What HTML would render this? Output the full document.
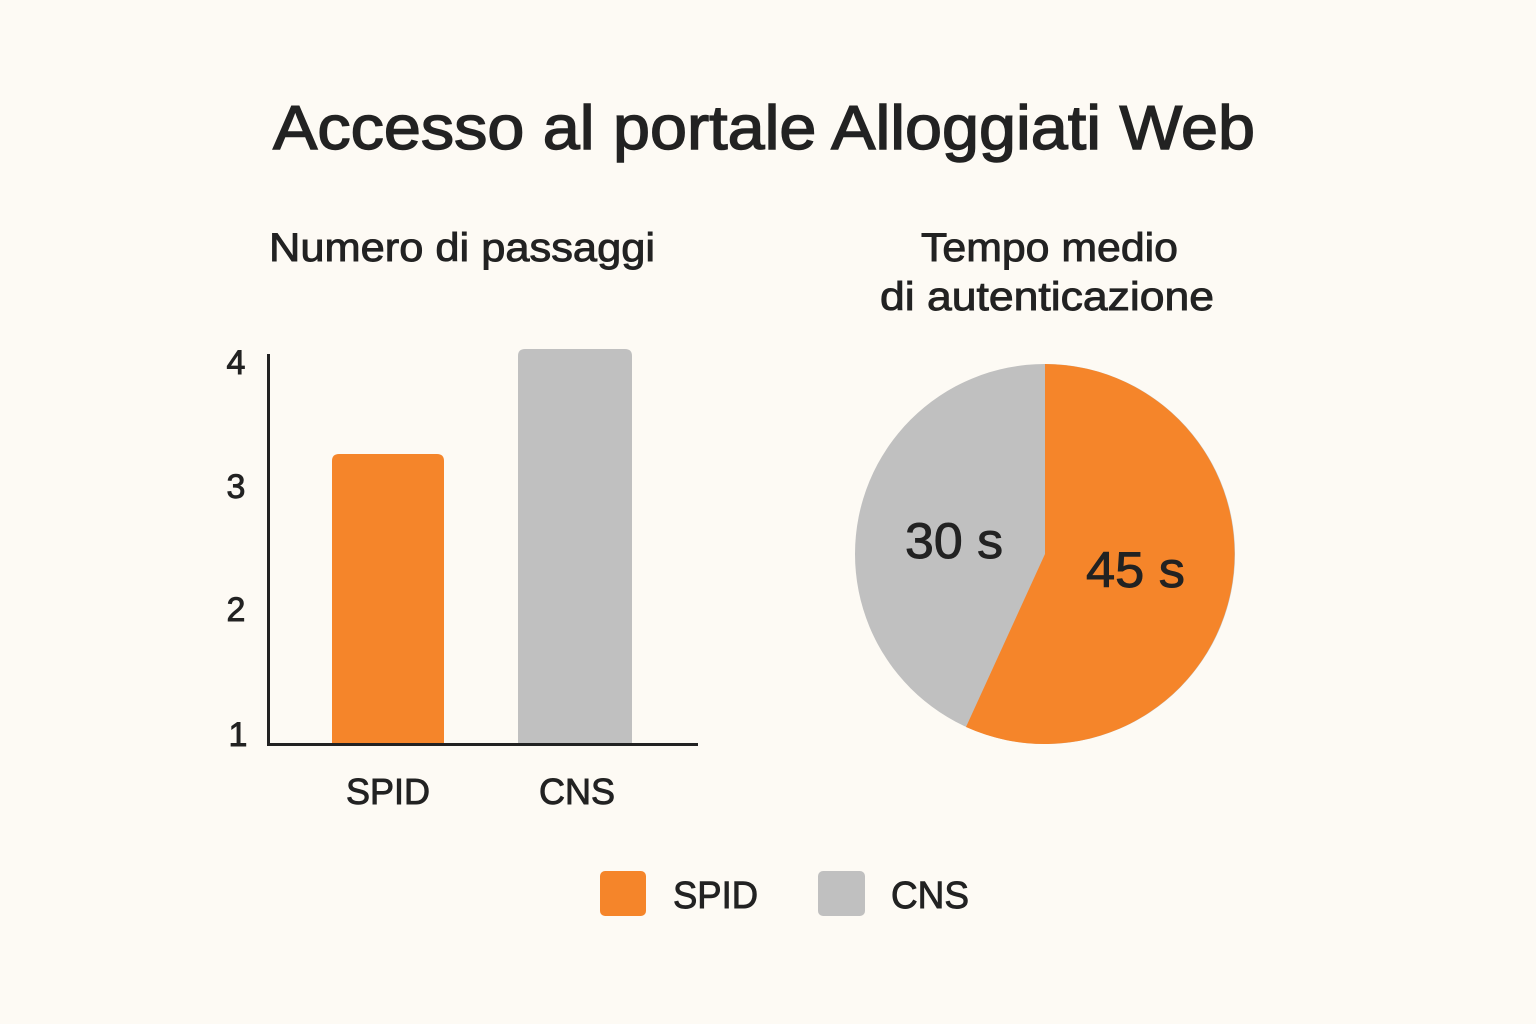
<!DOCTYPE html>
<html><head><meta charset="utf-8"><style>
html,body{margin:0;padding:0;background:#fdfaf4;}
svg{display:block;}
text{font-family:"Liberation Sans",sans-serif;fill:#222;stroke:#222;stroke-width:0.9px;}
</style></head><body>
<svg width="1536" height="1024" viewBox="0 0 1536 1024" xmlns="http://www.w3.org/2000/svg">
<rect width="1536" height="1024" fill="#fdfaf4"/>
<text x="273" y="149" font-size="62" style="stroke-width:1.4px" textLength="982" lengthAdjust="spacingAndGlyphs">Accesso al portale Alloggiati Web</text>
<text x="269" y="261" font-size="40" textLength="386" lengthAdjust="spacingAndGlyphs">Numero di passaggi</text>
<text x="921" y="261" font-size="40" textLength="257" lengthAdjust="spacingAndGlyphs">Tempo medio</text>
<text x="880" y="310" font-size="40" textLength="334" lengthAdjust="spacingAndGlyphs">di autenticazione</text>
<line x1="268.5" y1="354" x2="268.5" y2="745" stroke="#222" stroke-width="3"/>
<line x1="267" y1="744.5" x2="698" y2="744.5" stroke="#222" stroke-width="3"/>
<text x="236" y="374" font-size="34" text-anchor="middle">4</text>
<text x="236" y="498" font-size="34" text-anchor="middle">3</text>
<text x="236" y="621" font-size="34" text-anchor="middle">2</text>
<text x="238" y="746" font-size="34" text-anchor="middle">1</text>
<path d="M332 743 V461 Q332 454 339 454 H437 Q444 454 444 461 V743 Z" fill="#f5852a"/>
<path d="M518 743 V356 Q518 349 525 349 H625 Q632 349 632 356 V743 Z" fill="#c0c0c0"/>
<text x="388" y="804" font-size="36" text-anchor="middle">SPID</text>
<text x="577" y="804" font-size="36" text-anchor="middle">CNS</text>
<circle cx="1045" cy="554" r="190" fill="#c0c0c0"/>
<path d="M1045 554 L1045 364 A190 190 0 1 1 966 727 Z" fill="#f5852a"/>
<text x="905" y="558" font-size="50" textLength="98" lengthAdjust="spacingAndGlyphs">30 s</text>
<text x="1086" y="587" font-size="50" textLength="99" lengthAdjust="spacingAndGlyphs">45 s</text>
<rect x="600" y="871" width="46" height="45" rx="5" fill="#f5852a"/>
<text x="673" y="908" font-size="38" textLength="85" lengthAdjust="spacingAndGlyphs">SPID</text>
<rect x="818" y="871" width="47" height="45" rx="5" fill="#c0c0c0"/>
<text x="891" y="908" font-size="38" textLength="78" lengthAdjust="spacingAndGlyphs">CNS</text>
</svg>
</body></html>
